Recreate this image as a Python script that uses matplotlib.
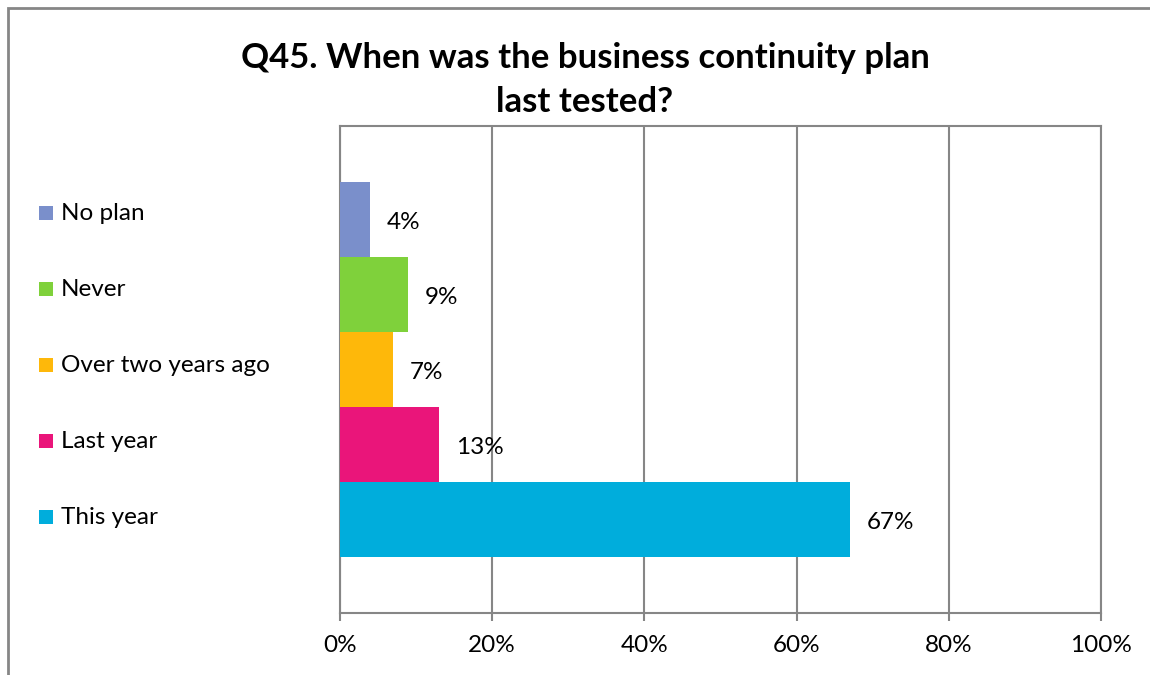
import matplotlib
matplotlib.use("Agg")
import matplotlib.pyplot as plt
from matplotlib.patches import Rectangle

plt.rcParams["font.family"] = ["Lato", "DejaVu Sans"]

# survey answers, drawn bottom to top
answers = ["This year", "Last year", "Over two years ago", "Never", "No plan"]
shares = [67, 13, 7, 9, 4]
colors = ["#00ADDC", "#EA157A", "#FEB80A", "#7FD13B", "#7A8FCB"]
x_ticks = [0, 20, 40, 60, 80, 100]

title = "Q45. When was the business continuity plan\nlast tested?"

W, H = 1150, 675
fig = plt.figure(figsize=(W / 100, H / 100), dpi=100)
fig.patch.set_facecolor("white")

# outer chart frame (runs off the right and bottom edges)
fig.add_artist(Rectangle((8 / W, -0.05), 1.1, 1 - 8 / H + 0.05, transform=fig.transFigure,
                         fill=False, edgecolor="#868686", linewidth=2))

grid_color = "#868686"
font_size = 17.5
ax = fig.add_axes([340 / W, (H - 613) / H, (1101 - 340) / W, (613 - 126) / H])

ypos = list(range(len(answers)))
ax.barh(ypos, shares, height=1.0, color=colors, zorder=3)

for y, v in zip(ypos, shares):
    ax.annotate(f"{v}%", (v, y), xytext=(12, -2), textcoords="offset points",
                va="center", ha="left", fontsize=font_size, color="black")

ax.set_xlim(0, 100)
ax.set_ylim(-1.25, len(answers) - 1 + 1.25)
ax.set_xticks(x_ticks)
ax.set_xticklabels([f"{t}%" for t in x_ticks], fontsize=font_size)
ax.set_yticks([])
ax.xaxis.grid(True, color=grid_color, linewidth=1.5, zorder=0)
ax.tick_params(axis="x", length=6, width=1.5, color=grid_color, pad=10)
for side in ["top", "right", "bottom", "left"]:
    ax.spines[side].set_color(grid_color)
    ax.spines[side].set_linewidth(1.5)

# legend on the left, top entry first
legend_top = 213
step = 76
for i, (name, col) in enumerate(zip(answers[::-1], colors[::-1])):
    yc = legend_top + i * step
    fig.add_artist(Rectangle((39 / W, 1 - (yc + 7) / H), 14 / W, 14 / H,
                             transform=fig.transFigure, facecolor=col, edgecolor="none"))
    fig.text(61 / W, 1 - yc / H, name, fontsize=font_size, va="center", ha="left")

fig.text(585 / W, 1 - 80 / H, title, fontsize=25, fontweight="bold",
         ha="center", va="center", linespacing=1.5)

fig.savefig("out.png", dpi=100, facecolor="white")
